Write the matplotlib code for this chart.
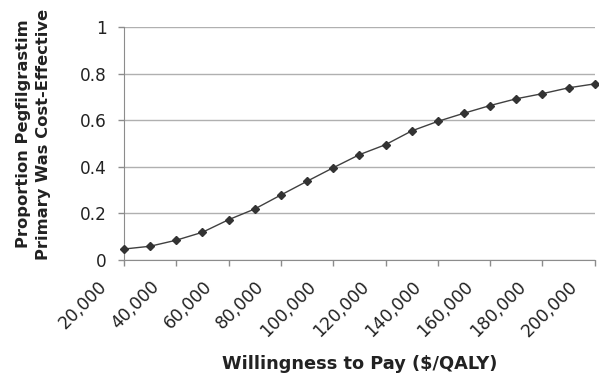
import matplotlib
matplotlib.use('Agg')
import matplotlib.pyplot as plt
import matplotlib.transforms as mtransforms
import numpy as np

plt.rcParams['font.family'] = ['DejaVu Sans']

# willingness to pay ($/QALY) and proportion cost-effective
wtp = [20000, 30000, 40000, 50000, 60000, 70000, 80000, 90000, 100000, 110000,
       120000, 130000, 140000, 150000, 160000, 170000, 180000, 190000, 200000]
prop = [0.047, 0.059, 0.085, 0.119, 0.173, 0.219, 0.279, 0.338, 0.396, 0.452,
        0.495, 0.554, 0.595, 0.630, 0.663, 0.692, 0.714, 0.739, 0.756]
xticks = [20000, 40000, 60000, 80000, 100000, 120000, 140000, 160000, 180000, 200000]
yticks = [0, 0.2, 0.4, 0.6, 0.8, 1]
ytick_labels = ['0', '0.2', '0.4', '0.6', '0.8', '1']

fig = plt.figure(figsize=(5.99, 3.75), dpi=100)
ax = fig.add_axes([0.207, 0.3067, 0.786, 0.6213])

ax.plot(wtp, prop, color='#404040', lw=1.0, marker='D', ms=4.5,
        markerfacecolor='#333333', markeredgecolor='#333333', clip_on=False, zorder=3)

ax.set_xlim(20000, 200000)
ax.set_ylim(0, 1)
ax.set_xticks(xticks)
ax.set_xticklabels(['{:,}'.format(v) for v in xticks], rotation=45,
                   ha='right', va='top', rotation_mode='anchor', fontsize=12.4)
ax.set_yticks(yticks)
ax.set_yticklabels(ytick_labels, fontsize=12.2)

ax.grid(axis='y', color='#b0b0b0', lw=1.0)
ax.set_axisbelow(True)
for s in ['top', 'right']:
    ax.spines[s].set_visible(False)
for s in ['left', 'bottom']:
    ax.spines[s].set_color('#8c8c8c')
ax.tick_params(axis='both', colors='#8c8c8c', labelcolor='#222222', length=4.5, width=1)
ax.tick_params(axis='x', pad=8)
ax.tick_params(axis='y', pad=8)

# nudge rotated x labels left so they end just under each tick
fig.canvas.draw()
shift = mtransforms.ScaledTranslation(-0.26, 0, fig.dpi_scale_trans)
for lab in ax.get_xticklabels():
    lab.set_transform(lab.get_transform() + shift)

fig.text(0.5 * (0.207 + 0.993), 1 - 364 / 375, 'Willingness to Pay ($/QALY)',
         ha='center', va='center', fontsize=12.8, fontweight='bold', color='#222222')
fig.text(0.056, 1 - 134 / 375, 'Proportion Pegfilgrastim\nPrimary Was Cost-Effective',
         rotation=90, ha='center', va='center', fontsize=11.8, fontweight='bold',
         color='#222222', linespacing=1.45)

fig.savefig('out.png', dpi=100)
